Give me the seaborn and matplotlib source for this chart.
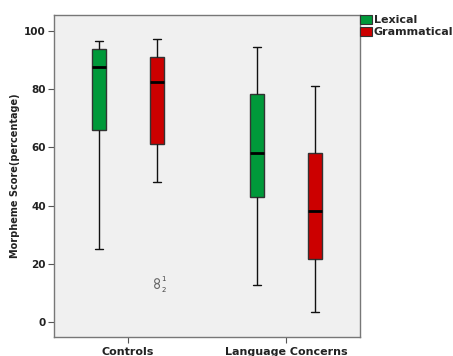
import matplotlib
matplotlib.use("Agg")
import matplotlib.pyplot as plt
from matplotlib.patches import Patch
import seaborn as sns
import pandas as pd

# ---- data (five-number summaries per box) ----
groups = ["Controls", "Language Concerns"]
measures = ["Lexical", "Grammatical"]
controls_lexical = [25.2, 66.1, 87.5, 93.8, 96.4]
controls_grammatical = [48.0, 61.1, 82.5, 91.0, 97.4]
concerns_lexical = [12.6, 42.9, 58.0, 78.5, 94.6]
concerns_grammatical = [3.5, 21.6, 38.2, 58.1, 81.1]
outlier_values = [14.1, 12.4]
outlier_labels = ["1", "2"]
colors = ["#00993a", "#cc0000"]

rows = []
for g, m, vals in [
    ("Controls", "Lexical", controls_lexical),
    ("Controls", "Grammatical", controls_grammatical),
    ("Language Concerns", "Lexical", concerns_lexical),
    ("Language Concerns", "Grammatical", concerns_grammatical),
]:
    for v in vals:
        rows.append({"Group": g, "Measure": m, "Score": v})
df = pd.DataFrame(rows)

sns.set_theme(style="white")
plt.rcParams["font.family"] = ["DejaVu Sans"]

fig = plt.figure(figsize=(4.53, 3.56), dpi=100)
ax = fig.add_axes([54 / 453, 19 / 356, 306 / 453, 322 / 356])
ax.set_facecolor("#f0f0f0")

box_width = 0.736
sns.boxplot(
    data=df, x="Group", y="Score", hue="Measure",
    order=groups, hue_order=measures, palette=colors,
    width=box_width, gap=0.75, dodge=True, linewidth=1.0,
    linecolor="#333333", whis=1.5, saturation=1,
    medianprops={"color": "black", "linewidth": 2.0},
    whiskerprops={"color": "#111111"}, capprops={"color": "#111111"},
    legend=False, ax=ax,
)

# outliers for Controls / Grammatical
gram_pos = groups.index("Controls") + box_width / 4
ax.scatter([gram_pos] * len(outlier_values), outlier_values, s=12,
           facecolors="none", edgecolors="#666666", linewidths=0.8, zorder=5)
for v, lab in zip(outlier_values, outlier_labels):
    ax.annotate(lab, (gram_pos, v), xytext=(3, 1.5 if lab == "1" else -2.5),
                textcoords="offset points", fontsize=5, color="#444444",
                va="center", ha="left")

ax.set_xlim(-0.468, 1.468)
ax.set_ylim(-5.1, 105.5)
ax.set_yticks([0, 20, 40, 60, 80, 100])
ax.set_xlabel("")
ax.set_ylabel("Morpheme Score(percentage)", fontsize=7, fontweight="bold",
              color="#222222", labelpad=3)
ax.tick_params(axis="both", which="both", direction="out", length=4,
               width=0.8, color="#555555", labelsize=7.5, labelcolor="#222222",
               left=True, bottom=True, pad=2)
ax.tick_params(axis="x", labelsize=8, pad=3)
for lab in ax.get_xticklabels() + ax.get_yticklabels():
    lab.set_fontweight("bold")
for sp in ax.spines.values():
    sp.set_color("#777777")
    sp.set_linewidth(1.0)

handles = [Patch(facecolor=c, edgecolor="#333333", linewidth=0.8, label=m)
           for c, m in zip(colors, measures)]
ax.legend(handles=handles, loc="upper left", bbox_to_anchor=(1.0, 1.0),
          frameon=False, borderpad=0, borderaxespad=0, handlelength=1.05,
          handleheight=0.9, handletextpad=0.2, labelspacing=0.1,
          prop={"weight": "bold", "size": 8})

fig.savefig("out.png", dpi=100)
